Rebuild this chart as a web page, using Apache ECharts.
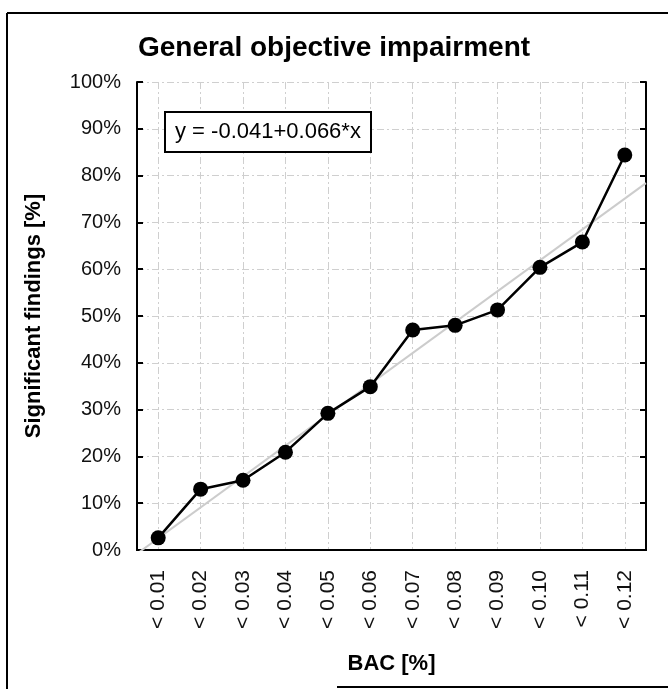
<!DOCTYPE html>
<html>
<head>
<meta charset="utf-8">
<title>General objective impairment</title>
<script src="https://cdn.jsdelivr.net/npm/echarts@6/dist/echarts.min.js"></script>
<style>
  html, body { margin: 0; padding: 0; background: #fff; }
  #chart { width: 668px; height: 689px; }
</style>
</head>
<body>
<div id="chart"></div>
<script>
// BAC classes (x categories)
var bacClasses = ['< 0.01', '< 0.02', '< 0.03', '< 0.04', '< 0.05', '< 0.06',
  '< 0.07', '< 0.08', '< 0.09', '< 0.10', '< 0.11', '< 0.12']
// share of significant findings, in %
var findings = [2.6, 13.0, 14.9, 20.9, 29.2, 34.9, 47.0, 48.0, 51.3, 60.4, 65.8, 84.4]
// fitted line y = -0.041+0.066*x, ends read at the plot edges
var trendX = [0.5, 12.5]
var trendY = [-0.8, 78.4]
var equation = 'y = -0.041+0.066*x'

var font = 'Liberation Sans, Arial, Helvetica, sans-serif'
var gridStyle = { color: '#cfcfcf', width: 1, type: [7, 3, 2, 3] }

var chart = echarts.init(document.getElementById('chart'), null, { renderer: 'canvas' })

chart.setOption({
  backgroundColor: '#fff',
  animation: false,
  title: [{
    text: 'General objective impairment',
    left: 'center',
    top: 29,
    textStyle: { fontFamily: font, fontSize: 28, fontWeight: 'bold', color: '#000' }
  }, {
    text: equation,
    left: 165,
    top: 112,
    padding: [9, 10, 9, 10],
    borderColor: '#000',
    borderWidth: 2,
    backgroundColor: '#fff',
    textStyle: { fontFamily: font, fontSize: 22, fontWeight: 'normal', color: '#000' }
  }],
  graphic: [
    { type: 'line', shape: { x1: 7, y1: 13, x2: 668, y2: 13 }, style: { stroke: '#000', lineWidth: 2 } },
    { type: 'line', shape: { x1: 7, y1: 13, x2: 7, y2: 689 }, style: { stroke: '#000', lineWidth: 2 } },
    { type: 'line', shape: { x1: 337, y1: 687, x2: 668, y2: 687 }, style: { stroke: '#000', lineWidth: 2 } }
  ],
  grid: { left: 137, right: 22, top: 82, bottom: 139 },
  xAxis: [{
    type: 'category',
    data: bacClasses,
    boundaryGap: true,
    name: 'BAC [%]',
    nameLocation: 'middle',
    nameGap: 103,
    nameTextStyle: { fontFamily: font, fontSize: 22, fontWeight: 'bold', color: '#000' },
    axisLine: { lineStyle: { color: '#000', width: 2 } },
    axisTick: { inside: true, alignWithLabel: true, length: 6, lineStyle: { color: '#000', width: 2 } },
    axisLabel: { rotate: 90, margin: 20, fontFamily: font, fontSize: 21, color: '#111', interval: 0 },
    splitLine: { show: true, alignWithLabel: true, interval: 0, lineStyle: gridStyle }
  }, {
    type: 'category',
    data: bacClasses,
    position: 'top',
    boundaryGap: true,
    axisLine: { lineStyle: { color: '#000', width: 2 } },
    axisTick: { inside: true, alignWithLabel: true, length: 6, lineStyle: { color: '#000', width: 2 } },
    axisLabel: { show: false },
    splitLine: { show: false }
  }, {
    type: 'value',
    min: 0.5,
    max: 12.5,
    show: false
  }],
  yAxis: [{
    type: 'value',
    min: 0,
    max: 100,
    interval: 10,
    name: 'Significant findings [%]',
    nameLocation: 'middle',
    nameGap: 92,
    nameTextStyle: { fontFamily: font, fontSize: 22, fontWeight: 'bold', color: '#000' },
    axisLine: { show: true, lineStyle: { color: '#000', width: 2 } },
    axisTick: { show: true, inside: true, length: 6, lineStyle: { color: '#000', width: 2 } },
    axisLabel: { formatter: '{value}%', margin: 16, fontFamily: font, fontSize: 20, color: '#111' },
    splitLine: { show: true, lineStyle: gridStyle }
  }, {
    type: 'value',
    min: 0,
    max: 100,
    interval: 10,
    position: 'right',
    axisLine: { show: true, lineStyle: { color: '#000', width: 2 } },
    axisTick: { show: true, inside: true, length: 6, lineStyle: { color: '#000', width: 2 } },
    axisLabel: { show: false },
    splitLine: { show: false }
  }],
  series: [{
    name: 'trend',
    type: 'line',
    xAxisIndex: 2,
    yAxisIndex: 0,
    data: trendX.map(function (x, i) { return [x, trendY[i]] }),
    symbol: 'none',
    clip: true,
    lineStyle: { color: '#cccccc', width: 2 },
    z: 2
  }, {
    name: 'findings',
    type: 'line',
    xAxisIndex: 0,
    yAxisIndex: 0,
    data: findings,
    symbol: 'circle',
    symbolSize: 15,
    itemStyle: { color: '#000' },
    lineStyle: { color: '#000', width: 2.5 },
    z: 3
  }]
})
</script>
</body>
</html>
